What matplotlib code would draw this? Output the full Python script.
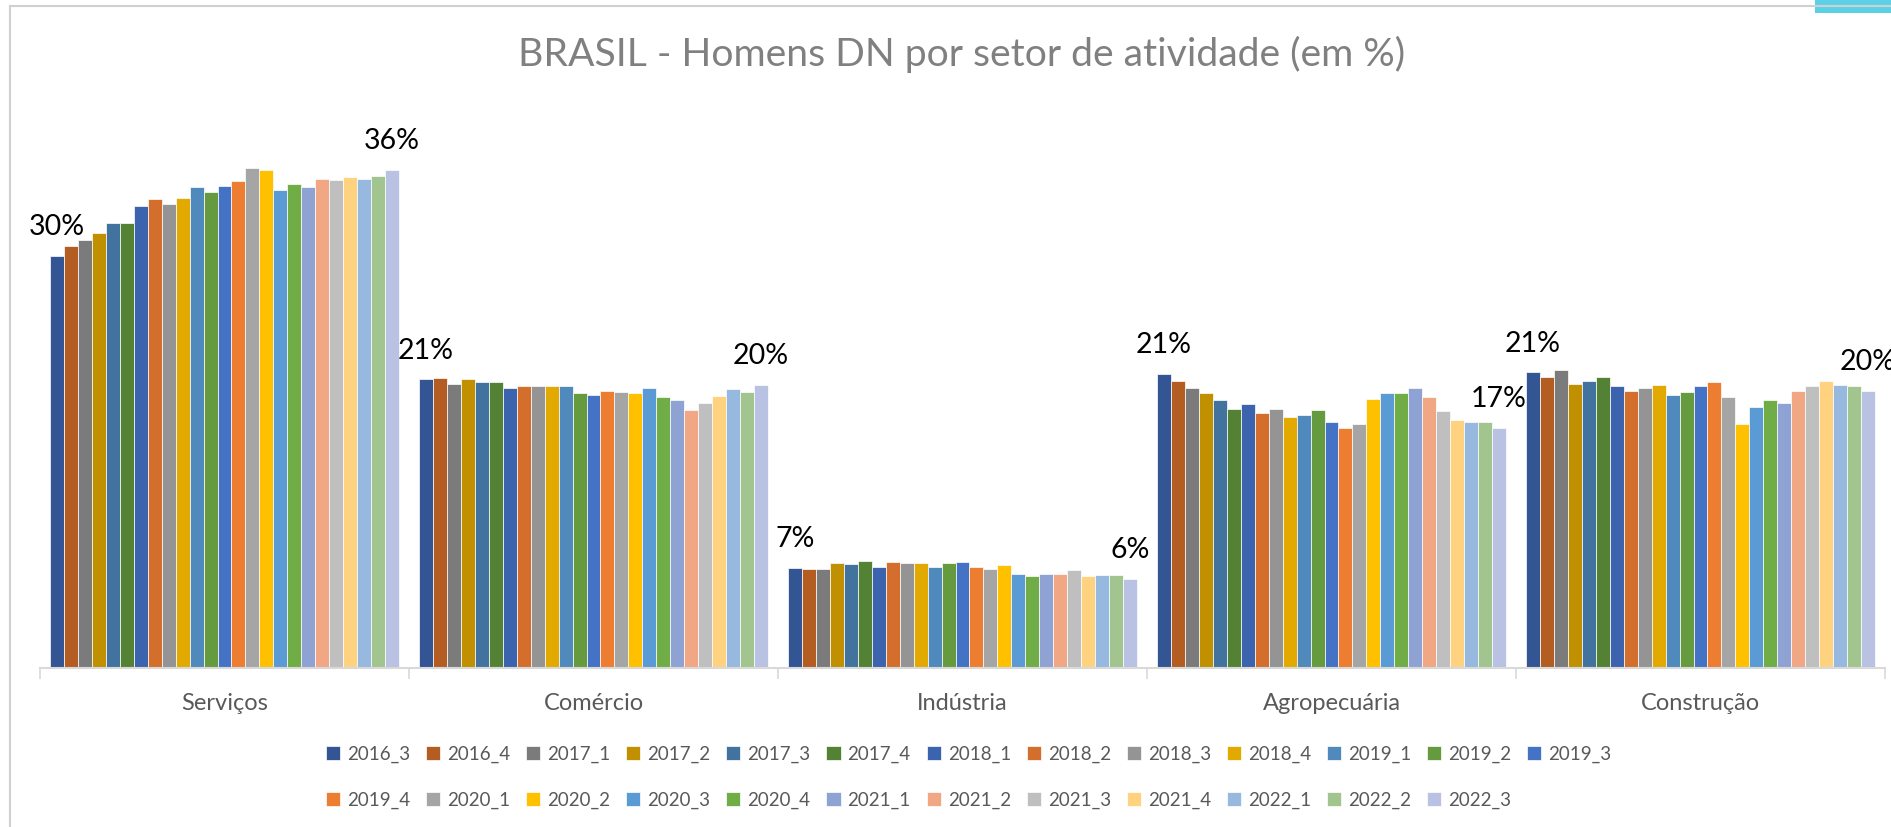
import matplotlib
matplotlib.use("Agg")
import matplotlib.pyplot as plt
import numpy as np
from matplotlib.lines import Line2D
from matplotlib.patches import Rectangle

# Data
sectors = ["Serviços", "Comércio", "Indústria", "Agropecuária", "Construção"]
periods = ["2016_3", "2016_4", "2017_1", "2017_2", "2017_3", "2017_4",
           "2018_1", "2018_2", "2018_3", "2018_4", "2019_1", "2019_2",
           "2019_3", "2019_4", "2020_1", "2020_2", "2020_3", "2020_4",
           "2021_1", "2021_2", "2021_3", "2021_4", "2022_1", "2022_2",
           "2022_3"]

servicos = [29.7, 30.4, 30.9, 31.4, 32.1, 32.1, 33.3, 33.8, 33.5, 33.9,
            34.7, 34.3, 34.8, 35.1, 36.1, 35.9, 34.5, 34.9, 34.7, 35.3,
            35.2, 35.4, 35.3, 35.5, 35.9]
comercio = [20.8, 20.9, 20.5, 20.8, 20.6, 20.6, 20.2, 20.3, 20.3, 20.3,
            20.3, 19.8, 19.7, 20.0, 19.9, 19.8, 20.2, 19.5, 19.3, 18.6,
            19.1, 19.6, 20.1, 19.9, 20.4]
industria = [7.17, 7.12, 7.08, 7.56, 7.44, 7.70, 7.29, 7.65, 7.56, 7.51,
             7.24, 7.56, 7.63, 7.27, 7.10, 7.41, 6.76, 6.62, 6.76, 6.76,
             7.05, 6.64, 6.67, 6.67, 6.40]
agropecuaria = [21.2, 20.7, 20.2, 19.8, 19.3, 18.7, 19.0, 18.4, 18.7, 18.1,
                18.2, 18.6, 17.7, 17.3, 17.6, 19.4, 19.8, 19.8, 20.2, 19.5,
                18.5, 17.9, 17.7, 17.7, 17.3]
construcao = [21.3, 21.0, 21.5, 20.5, 20.7, 21.0, 20.3, 20.0, 20.2, 20.4,
              19.7, 19.9, 20.3, 20.6, 19.5, 17.6, 18.8, 19.3, 19.1, 20.0,
              20.3, 20.7, 20.4, 20.3, 20.0]

# Styles
colors = ["#335593", "#B45D22", "#7B7B7B", "#C09000", "#42739E", "#548235",
          "#3C64AE", "#D46E2C", "#949494", "#E2AA00", "#5089BC", "#659A3E",
          "#4472C4", "#ED7D31", "#A5A5A5", "#FFC000", "#5B9BD5", "#70AD47",
          "#8FA2D4", "#F1A784", "#BFBFBF", "#FFD280", "#97B9E0", "#A2C48E",
          "#B9C2E2"]

W, H = 1891, 827
plt.rcParams['font.family'] = ['Lato', 'DejaVu Sans']

values = np.array([servicos, comercio, industria, agropecuaria, construcao])
n_series = len(periods)
x = np.arange(len(sectors))
width = 0.946 / n_series

fig = plt.figure(figsize=(W / 100, H / 100), dpi=100)
ax = fig.add_axes([40 / W, 1 - 667.5 / H, 1845 / W, 567.5 / H])

handles = []
for i, period in enumerate(periods):
    bars = ax.bar(x + (i - (n_series - 1) / 2) * width, values[:, i], width,
                  color=colors[i], edgecolor="white", linewidth=0.5, label=period)
    handles.append(bars)

# labels on first and last bar of each sector
for j in range(len(sectors)):
    for i in (0, n_series - 1):
        xb = x[j] + (i - (n_series - 1) / 2) * width
        ax.annotate(f"{values[j, i]:.0f}%", (xb, values[j, i]), xytext=(0, 15),
                    textcoords="offset points", ha="center", va="baseline",
                    fontsize=20.5, color="black")

ax.set_xlim(-0.5, len(sectors) - 0.5)
ax.set_ylim(0, 567.5 / 13.85)
ax.set_yticks([])
for side in ("top", "right", "left"):
    ax.spines[side].set_visible(False)
ax.spines["bottom"].set_color("#D9D9D9")
ax.spines["bottom"].set_linewidth(1.5)
ax.set_xticks(x)
ax.set_xticklabels(sectors, fontsize=17, color="#595959")
ax.tick_params(axis="x", which="major", length=0, pad=18)
ax.set_xticks(np.arange(-0.5, len(sectors)), minor=True)
ax.tick_params(axis="x", which="minor", length=8, width=1.2, color="#D9D9D9")

fig.text(962 / W, 1 - 54 / H, "BRASIL - Homens DN por setor de atividade (em %)",
         ha="center", va="center", fontsize=28.2, color="#808080")

# legend: row-major order with 13 columns
ncol = 13
order = []
for c in range(ncol):
    order.append(c)
    if c + ncol < n_series:
        order.append(c + ncol)
fig.legend([handles[k] for k in order], [periods[k] for k in order],
           ncol=ncol, loc="upper left", bbox_to_anchor=(326 / W, 1 - 745.5 / H),
           frameon=False, borderpad=0, borderaxespad=0, fontsize=13.5,
           handlelength=0.75, handleheight=0.75, handletextpad=0.37,
           columnspacing=0.85, labelspacing=1.52, labelcolor="#595959")

# chart border
fig.add_artist(Rectangle((1815 / W, 1 - 12.5 / H), 76 / W, 12.5 / H,
                         transform=fig.transFigure, color="#5BD0E6", lw=0))
fig.add_artist(Line2D([10 / W, 1], [1 - 6 / H, 1 - 6 / H], transform=fig.transFigure,
                      color="#D0D0D0", lw=1.5))
fig.add_artist(Line2D([10 / W, 10 / W], [0, 1 - 6 / H], transform=fig.transFigure,
                      color="#D0D0D0", lw=1.5))

fig.savefig("out.png", dpi=100)
